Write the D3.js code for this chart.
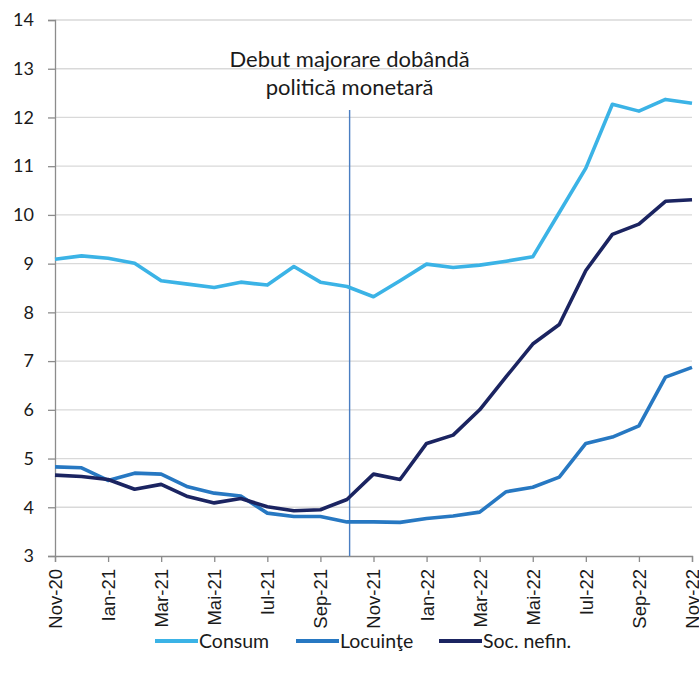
<!DOCTYPE html>
<html><head><meta charset="utf-8">
<script src="https://cdn.jsdelivr.net/npm/d3@7"></script>
<style>body{margin:0;background:#fff}svg{display:block}text{font-family:Lato,"Open Sans",sans-serif;fill:#1a1a1a}</style>
</head><body><svg id="c" width="699" height="679"></svg>
<script>
const months = ["Nov-20","Dec-20","Ian-21","Feb-21","Mar-21","Apr-21","Mai-21","Iun-21","Iul-21","Aug-21","Sep-21","Oct-21","Nov-21","Dec-21","Ian-22","Feb-22","Mar-22","Apr-22","Mai-22","Iun-22","Iul-22","Aug-22","Sep-22","Oct-22","Nov-22"];
const consum = [9.09,9.16,9.11,9.01,8.65,8.58,8.51,8.62,8.56,8.94,8.62,8.53,8.32,8.65,8.99,8.92,8.97,9.05,9.14,10.05,10.96,12.27,12.13,12.37,12.29];
const locuinte = [4.83,4.81,4.55,4.70,4.68,4.42,4.29,4.23,3.88,3.81,3.81,3.70,3.70,3.69,3.77,3.82,3.90,4.32,4.41,4.62,5.31,5.44,5.67,6.67,6.87];
const socNefin = [4.66,4.63,4.57,4.37,4.47,4.22,4.09,4.18,4.01,3.93,3.95,4.16,4.68,4.57,5.31,5.48,6.00,6.68,7.35,7.75,8.86,9.60,9.81,10.28,10.31];
const yTicks = [3,4,5,6,7,8,9,10,11,12,13,14];
const xTickLabels = ["Nov-20","Ian-21","Mar-21","Mai-21","Iul-21","Sep-21","Nov-21","Ian-22","Mar-22","Mai-22","Iul-22","Sep-22","Nov-22"];
const seriesNames = ["Consum","Locuinţe","Soc. nefin."];
const eventPos = 11.1; // month index of policy-rate hike start
const annotation = ["Debut majorare dobândă","politică monetară"];

const colors = ["#3bb3e6","#2778c2","#1b2461"];
const svg = d3.select("#c");
const L=55, R=692, T=20, B=556;
const x = d3.scaleLinear().domain([0, months.length-1]).range([L,R]);
const y = d3.scaleLinear().domain([3,14]).range([B,T]);

// grid
svg.append("g").selectAll("line").data(yTicks.filter(d=>d>3)).join("line")
  .attr("x1",L).attr("x2",R).attr("y1",d=>y(d)).attr("y2",d=>y(d))
  .attr("stroke","#d9d9d9").attr("stroke-width",1.3);

// y axis
const ya = svg.append("g").attr("transform",`translate(${L},0)`)
  .call(d3.axisLeft(y).tickValues(yTicks).tickSize(7).tickPadding(14).tickFormat(d3.format("d")));
ya.select(".domain").attr("stroke","#8c8c8c").attr("stroke-width",1.3);
ya.selectAll(".tick line").attr("stroke","#8c8c8c").attr("stroke-width",1.3);
ya.selectAll("text").style("font-size","18px").attr("fill","#1a1a1a").style("font-family","Lato, sans-serif");

// x axis
const xIdx = xTickLabels.map(l=>months.indexOf(l));
const xa = svg.append("g").attr("transform",`translate(0,${B})`)
  .call(d3.axisBottom(x).tickValues(xIdx).tickSize(6).tickFormat(i=>months[i]));
xa.select(".domain").attr("stroke","#8c8c8c").attr("stroke-width",1.3);
xa.selectAll(".tick line").attr("stroke","#8c8c8c").attr("stroke-width",1.3);
xa.selectAll("text").style("font-size","18.5px").attr("fill","#1a1a1a").style("font-family","'Liberation Sans', Arial, sans-serif")
  .attr("transform","rotate(-90)").attr("text-anchor","end").attr("x",-13).attr("y",0).attr("dy","0.35em");

// event line
svg.append("line").attr("x1",x(eventPos)).attr("x2",x(eventPos)).attr("y1",110).attr("y2",B)
  .attr("stroke","#4a7ec2").attr("stroke-width",1.4);
svg.append("g").selectAll("text").data(annotation).join("text")
  .attr("x",x(eventPos)).attr("y",(d,i)=>67+i*28).attr("text-anchor","middle")
  .style("font-size","22px").text(d=>d);

// lines
const line = d3.line().x((d,i)=>x(i)).y(d=>y(d));
[consum,locuinte,socNefin].forEach((s,k)=>{
  svg.append("path").datum(s).attr("d",line).attr("fill","none")
    .attr("stroke",colors[k]).attr("stroke-width",3.6).attr("stroke-linejoin","round");
});

// legend
const lx = [155,296,439];
const lg = svg.append("g");
seriesNames.forEach((n,k)=>{
  lg.append("line").attr("x1",lx[k]).attr("x2",lx[k]+43).attr("y1",641).attr("y2",641)
    .attr("stroke",colors[k]).attr("stroke-width",4);
  lg.append("text").attr("x",lx[k]+44).attr("y",641).attr("dy","0.35em").style("font-size","19.5px").text(n);
});
</script></body></html>
